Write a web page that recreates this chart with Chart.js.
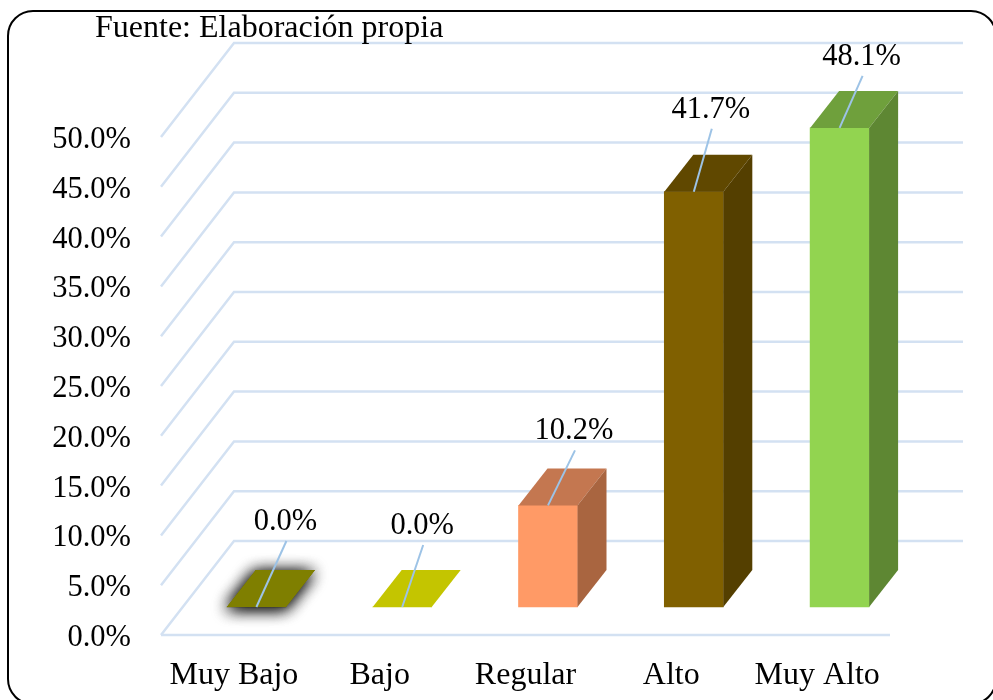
<!DOCTYPE html>
<html>
<head>
<meta charset="utf-8">
<script src="https://cdn.jsdelivr.net/npm/chart.js"></script>
<style>
  html, body { margin: 0; padding: 0; background: #fff; overflow: hidden; }
  #wrap { position: relative; width: 993px; height: 700px; overflow: hidden; }
  #frame { position: absolute; left: 7px; top: 10px; width: 990px; height: 695px;
           border: 2px solid #000; border-radius: 26px; box-sizing: border-box; }
  canvas { position: absolute; left: 0; top: 0; }
</style>
</head>
<body>
<div id="wrap">
  <div id="frame"></div>
  <canvas id="barChart" width="993" height="700"></canvas>
</div>
<script>
const categories = ['Muy Bajo', 'Bajo', 'Regular', 'Alto', 'Muy Alto'];
const values = [0.0, 0.0, 10.2, 41.7, 48.1];
const yTicks = [0, 5, 10, 15, 20, 25, 30, 35, 40, 45, 50];
const sourceNote = 'Fuente: Elaboración propia';

const frontColors = ['#7f7f00', '#c4c500', '#ff9a66', '#806000', '#92d450'];
const topColors = ['#7f7f00', '#c4c500', '#c47750', '#604800', '#6fa03c'];
const sideColors = ['#7f7f00', '#c4c500', '#a96540', '#543f00', '#5e8733'];

// where each value label sits, measured from the top of its bar
const labelShift = [[29, -85], [20, -81], [26, -74], [17, -82], [22, -71]];

const FONT = '"Liberation Serif", "Times New Roman", serif';
const GRID = '#d3e1f2';
const LEADER = '#9dc3e6';
// fake 3d: wall depth, bar position in the floor, bar depth
const wall = { x: 73, y: -94 };
const barShift = { x: 22.5, y: -28 };
const barDepth = { x: 29, y: -37 };

function poly(ctx, pts, color) {
    ctx.fillStyle = color;
    ctx.beginPath();
    ctx.moveTo(pts[0][0], pts[0][1]);
    for (let i = 1; i < pts.length; i++) {
        ctx.lineTo(pts[i][0], pts[i][1]);
    }
    ctx.closePath();
    ctx.fill();
}

const fake3d = {
    id: 'fake3d',
    beforeDatasetsDraw(chart) {
        const ctx = chart.ctx;
        const { left, right } = chart.chartArea;
        const yScale = chart.scales.y;
        ctx.save();
        ctx.strokeStyle = GRID;
        ctx.lineWidth = 2.5;
        yTicks.forEach(function (t) {
            const y = yScale.getPixelForValue(t);
            ctx.beginPath();
            ctx.moveTo(left, y);
            ctx.lineTo(left + wall.x, y + wall.y);
            ctx.lineTo(right + wall.x, y + wall.y);
            ctx.stroke();
        });
        // floor front edge
        const y0 = yScale.getPixelForValue(0);
        ctx.beginPath();
        ctx.moveTo(left, y0);
        ctx.lineTo(right, y0);
        ctx.stroke();
        ctx.restore();
        // bars sit further back on the floor
        ctx.save();
        ctx.translate(barShift.x, barShift.y);
    },
    afterDatasetsDraw(chart) {
        const ctx = chart.ctx;
        const bars = chart.getDatasetMeta(0).data;
        const dx = barDepth.x, dy = barDepth.y;
        bars.forEach(function (b, i) {
            const l = b.x - b.width / 2, r = b.x + b.width / 2;
            const topFace = [[l, b.y], [r, b.y], [r + dx, b.y + dy], [l + dx, b.y + dy]];
            if (i === 0) {
                // first bar has a soft glow in the original, two passes to get it dark enough
                ctx.save();
                ctx.shadowColor = 'rgba(30,30,30,1)';
                ctx.shadowBlur = 16;
                ctx.shadowOffsetX = -1;
                ctx.shadowOffsetY = 2;
                poly(ctx, topFace, topColors[i]);
                poly(ctx, topFace, topColors[i]);
                ctx.restore();
            }
            poly(ctx, topFace, topColors[i]);
            if (b.base - b.y > 0) {
                poly(ctx, [[r, b.y], [r + dx, b.y + dy], [r + dx, b.base + dy], [r, b.base]], sideColors[i]);
            }
        });
        ctx.restore();

        // leader lines and value labels
        ctx.save();
        ctx.font = '30.5px ' + FONT;
        ctx.textAlign = 'center';
        ctx.textBaseline = 'middle';
        bars.forEach(function (b, i) {
            const x = b.x + barShift.x, y = b.y + barShift.y;
            const lx = x + labelShift[i][0], ly = y + labelShift[i][1];
            ctx.strokeStyle = LEADER;
            ctx.lineWidth = 2;
            ctx.beginPath();
            ctx.moveTo(x, y);
            ctx.lineTo(lx + 1, ly + 19);
            ctx.stroke();
            ctx.fillStyle = '#000';
            ctx.fillText(values[i].toFixed(1) + '%', lx, ly);
        });
        ctx.restore();
    },
    afterDraw(chart) {
        const ctx = chart.ctx;
        ctx.save();
        ctx.font = '32px ' + FONT;
        ctx.fillStyle = '#000';
        ctx.textAlign = 'left';
        ctx.textBaseline = 'alphabetic';
        ctx.fillText(sourceNote, 95, 37);
        ctx.restore();
    }
};

new Chart(document.getElementById('barChart').getContext('2d'), {
    type: 'bar',
    data: {
        labels: categories,
        datasets: [{
            data: values,
            backgroundColor: frontColors,
            borderWidth: 0,
            barThickness: 59,
            clip: false
        }]
    },
    options: {
        responsive: false,
        animation: false,
        layout: { padding: { top: 137, right: 103, left: 0, bottom: 0 } },
        plugins: { legend: { display: false }, tooltip: { enabled: false } },
        scales: {
            x: {
                grid: { display: false },
                border: { display: false },
                ticks: { color: '#000', font: { family: FONT, size: 32 }, padding: 13, maxRotation: 0 },
                afterFit(scale) { scale.height = 65; }
            },
            y: {
                min: 0,
                max: 50,
                grid: { display: false },
                border: { display: false },
                afterBuildTicks(scale) { scale.ticks = yTicks.map(v => ({ value: v })); },
                ticks: {
                    color: '#000',
                    font: { family: FONT, size: 30.5 },
                    padding: 22,
                    labelOffset: 3,
                    callback: v => v.toFixed(1) + '%'
                },
                afterFit(scale) { scale.width = 161; }
            }
        }
    },
    plugins: [fake3d]
});
</script>
</body>
</html>
